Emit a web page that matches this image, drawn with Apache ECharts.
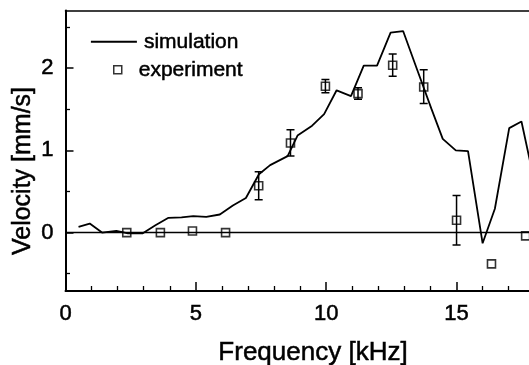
<!DOCTYPE html>
<html>
<head>
<meta charset="utf-8">
<script src="https://cdn.jsdelivr.net/npm/echarts@6/dist/echarts.min.js"></script>
<style>
html,body{margin:0;padding:0;background:#fff;}
#c{width:529px;height:365px;}
</style>
</head>
<body>
<div id="c"></div>
<script>
// Simulation curve (frequency kHz, velocity mm/s)
var simFreq = [0.5, 0.93, 1.4, 1.95, 2.4, 2.95, 3.45, 3.95, 4.45, 4.9, 5.4, 5.92, 6.42, 6.92, 7.42, 7.85, 8.52, 8.9, 9.46, 9.92, 10.4, 10.95, 11.44, 11.95, 12.47, 12.95, 13.5, 14.03, 14.47, 14.97, 15.44, 16.0, 16.47, 17.02, 17.49, 18.0];
var simVel  = [0.07, 0.11, 0.0, 0.02, -0.01, -0.01, 0.09, 0.18, 0.185, 0.2, 0.19, 0.22, 0.33, 0.42, 0.71, 0.82, 0.93, 1.18, 1.3, 1.44, 1.73, 1.66, 2.03, 2.03, 2.43, 2.45, 1.97, 1.51, 1.14, 1.0, 0.99, -0.13, 0.29, 1.27, 1.35, 0.6];

// Experiment points
var expFreq = [2.35, 3.64, 4.87, 6.14, 7.41, 8.63, 9.97, 11.22, 12.55, 13.74, 15.0, 16.34, 17.65];
var expVel  = [0.0, 0.0, 0.02, 0.0, 0.57, 1.09, 1.78, 1.69, 2.035, 1.77, 0.15, -0.38, -0.04];

// Error bars (frequency, low, high)
var errFreq = [7.41, 8.63, 9.97, 11.22, 12.55, 13.74, 15.0];
var errLow  = [0.40, 0.93, 1.70, 1.62, 1.90, 1.57, -0.15];
var errHigh = [0.74, 1.25, 1.86, 1.76, 2.17, 1.98, 0.45];

// Axis ticks
var xMajorStep = 5;
var yLabelValues = [0, 1, 2];
var yMinorValues = [-0.5, 0.5, 1.5, 2.5];

var simData = simFreq.map(function (f, i) { return [f, simVel[i]]; });
var expData = expFreq.map(function (f, i) { return [f, expVel[i]]; });
var errData = errFreq.map(function (f, i) { return [f, errLow[i], errHigh[i]]; });

var FONT = '"Liberation Sans", Arial, sans-serif';
var TB = { textBorderColor: '#000', textBorderWidth: 0.5 };
var gridRect = { left: 65.5, top: 10.5, height: 280.5, width: 521.4, containLabel: false, outerBoundsMode: 'none' };

var chart = echarts.init(document.getElementById('c'), null, { renderer: 'canvas' });
chart.setOption({
  backgroundColor: '#fff',
  animation: false,
  grid: [
    Object.assign({}, gridRect),
    Object.assign({}, gridRect)
  ],
  xAxis: [
    {
      gridIndex: 0, type: 'value', position: 'bottom', min: 0, max: 20, interval: xMajorStep,
      axisLine: { show: true, onZero: false, lineStyle: { color: '#000', width: 2 } },
      axisTick: { show: true, inside: true, length: 9, lineStyle: { color: '#000', width: 1.5 } },
      minorTick: { show: true, splitNumber: 5, length: 5, lineStyle: { color: '#000', width: 1.3 } },
      axisLabel: Object.assign({ show: true, margin: 12, color: '#000', fontSize: 22, fontFamily: FONT }, TB),
      splitLine: { show: false }, minorSplitLine: { show: false }
    },
    {
      gridIndex: 1, type: 'value', position: 'top', min: 0, max: 20,
      axisLine: { show: true, onZero: false, lineStyle: { color: '#000', width: 1.5 } },
      axisTick: { show: false }, axisLabel: { show: false }, splitLine: { show: false }
    }
  ],
  yAxis: [
    {
      gridIndex: 0, type: 'value', position: 'left', min: -0.71, max: 2.7,
      axisLine: { show: true, onZero: false, lineStyle: { color: '#000', width: 2 } },
      axisTick: { show: true, inside: true, length: 8, customValues: yLabelValues, lineStyle: { color: '#000', width: 1.5 } },
      axisLabel: Object.assign({ show: true, margin: 12, customValues: yLabelValues, color: '#000', fontSize: 22, fontFamily: FONT }, TB),
      splitLine: { show: false }
    },
    {
      gridIndex: 1, type: 'value', position: 'left', min: -0.71, max: 2.7,
      axisLine: { show: false },
      axisTick: { show: true, inside: true, length: 4.5, customValues: yMinorValues, lineStyle: { color: '#000', width: 1.3 } },
      axisLabel: { show: false }, splitLine: { show: false }
    }
  ],
  legend: [
    {
      data: ['simulation'], orient: 'vertical', left: 90, top: 31, padding: 0,
      itemWidth: 46, itemHeight: 14, selectedMode: false,
      itemStyle: { color: 'rgba(0,0,0,0)', borderWidth: 0, opacity: 0 },
      lineStyle: { color: '#000', width: 1.8, opacity: 1 },
      textStyle: Object.assign({ color: '#000', fontSize: 21, fontFamily: FONT, padding: [0, 0, 0, 2] }, TB)
    },
    {
      data: ['experiment'], orient: 'vertical', left: 113, top: 59, padding: 0,
      itemWidth: 8, itemHeight: 8, selectedMode: false,
      itemStyle: { color: 'rgba(0,0,0,0)', borderColor: '#000', borderWidth: 1.5 },
      textStyle: Object.assign({ color: '#000', fontSize: 21, fontFamily: FONT, padding: [0, 0, 0, 12] }, TB)
    }
  ],
  graphic: [
    {
      type: 'text', x: 313, y: 352.5,
      style: { text: 'Frequency [kHz]', font: '26px ' + FONT, fill: '#000', stroke: '#000', lineWidth: 0.5, align: 'center', verticalAlign: 'middle' }
    },
    {
      type: 'text', x: 23, y: 171, rotation: Math.PI / 2,
      style: { text: 'Velocity [mm/s]', font: '25px ' + FONT, fill: '#000', stroke: '#000', lineWidth: 0.5, align: 'center', verticalAlign: 'middle' }
    }
  ],
  series: [
    {
      name: 'simulation', type: 'line', xAxisIndex: 0, yAxisIndex: 0,
      data: simData, symbol: 'none', smooth: false, clip: true,
      lineStyle: { color: '#000', width: 1.8 }, itemStyle: { color: '#000' },
      markLine: {
        silent: true, symbol: ['none', 'none'], label: { show: false },
        lineStyle: { color: '#000', width: 1.4, type: 'solid' },
        data: [{ yAxis: 0 }]
      }
    },
    {
      name: 'errorbars', type: 'custom', xAxisIndex: 0, yAxisIndex: 0,
      data: errData, encode: { x: 0, y: [1, 2] }, silent: true, clip: true,
      renderItem: function (params, api) {
        var x = api.value(0);
        var top = api.coord([x, api.value(2)]);
        var bot = api.coord([x, api.value(1)]);
        var w = 4;
        var st = { stroke: '#000', lineWidth: 1.5 };
        return {
          type: 'group',
          children: [
            { type: 'line', shape: { x1: top[0], y1: top[1], x2: bot[0], y2: bot[1] }, style: st },
            { type: 'line', shape: { x1: top[0] - w, y1: top[1], x2: top[0] + w, y2: top[1] }, style: st },
            { type: 'line', shape: { x1: bot[0] - w, y1: bot[1], x2: bot[0] + w, y2: bot[1] }, style: st }
          ]
        };
      }
    },
    {
      name: 'experiment', type: 'scatter', xAxisIndex: 0, yAxisIndex: 0,
      data: expData, symbol: 'rect', symbolSize: 8, clip: false,
      itemStyle: { color: 'rgba(0,0,0,0)', borderColor: '#000', borderWidth: 1.6 }
    }
  ]
});
</script>
</body>
</html>
